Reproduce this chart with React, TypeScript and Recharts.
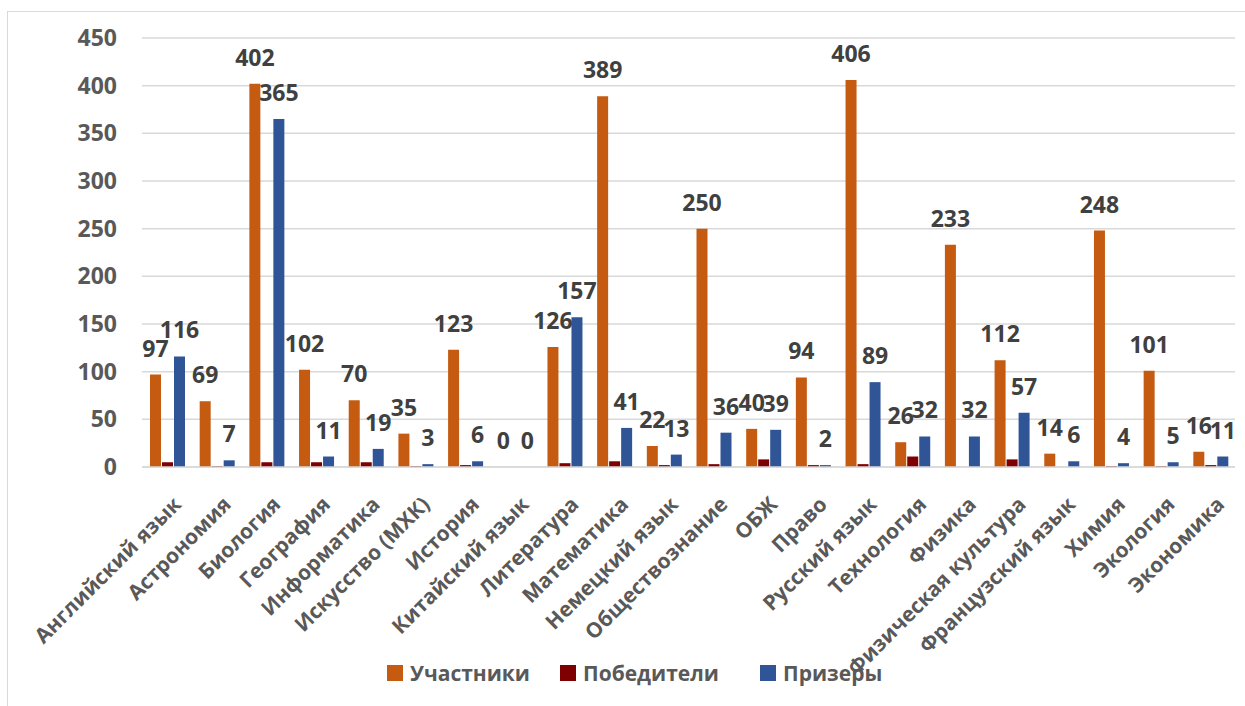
import React from 'react';
import { BarChart, Bar, XAxis, YAxis, CartesianGrid, LabelList } from 'recharts';

// Предметы
const subjects = [
  'Английский язык', 'Астрономия', 'Биология', 'География', 'Информатика',
  'Искусство (МХК)', 'История', 'Китайский язык', 'Литература', 'Математика',
  'Немецкий язык', 'Обществознание', 'ОБЖ', 'Право', 'Русский язык',
  'Технология', 'Физика', 'Физическая культура', 'Французский язык', 'Химия',
  'Экология', 'Экономика',
];

const participants = [97, 69, 402, 102, 70, 35, 123, 0, 126, 389, 22, 250, 40, 94, 406, 26, 233, 112, 14, 248, 101, 16];
const winners = [5, 1, 5, 5, 5, 1, 2, 0, 4, 6, 2, 3, 8, 2, 3, 11, 0, 8, 0, 1, 1, 2];
const prizers = [116, 7, 365, 11, 19, 3, 6, 0, 157, 41, 13, 36, 39, 2, 89, 32, 32, 57, 6, 4, 5, 11];

const yTicks = [0, 50, 100, 150, 200, 250, 300, 350, 400, 450];

const data = subjects.map((name, i) => ({
  name,
  uch: participants[i],
  pob: winners[i],
  pri: prizers[i],
}));

const FONT = '"Open Sans", sans-serif';

const XTick = (props: any) => {
  const { x, y, payload } = props;
  const ax = x + 5;
  const ay = y + 28;
  return (
    <text
      x={ax}
      y={ay}
      dy="0.72em"
      textAnchor="end"
      transform={`rotate(-45 ${ax} ${ay})`}
      fill="#595959"
      fontSize={21}
      fontWeight={700}
      fontFamily={FONT}
    >
      {payload.value}
    </text>
  );
};

const legendItems = [
  { label: 'Участники', color: '#C55A11', left: 387 },
  { label: 'Победители', color: '#7F0000', left: 560 },
  { label: 'Призеры', color: '#2F5597', left: 760 },
];

const labelStyle = { fill: '#404040', fontSize: 23, fontWeight: 700, fontFamily: FONT };

export default function App() {
  return (
    <div style={{ position: 'absolute', left: 0, top: 0, width: 1245, height: 706, overflow: 'hidden', background: '#fff' }}>
      <div
        style={{
          position: 'absolute', left: 7, top: 11, width: 1300, height: 720,
          border: '1.5px solid #d9d9d9', boxSizing: 'border-box',
        }}
      />
      <div style={{ position: 'absolute', left: 0, top: 0 }}>
        <BarChart
          width={1245}
          height={706}
          data={data}
          margin={{ top: 38, right: 10, bottom: 0, left: 0 }}
          barCategoryGap={8}
          barGap={1}
        >
          <CartesianGrid vertical={false} stroke="#d9d9d9" strokeWidth={1.5} />
          <XAxis
            dataKey="name"
            height={239}
            interval={0}
            tickLine={false}
            tickSize={0}
            tickMargin={0}
            axisLine={{ stroke: '#d9d9d9', strokeWidth: 1.5 }}
            tick={<XTick />}
          />
          <YAxis
            width={142}
            domain={[0, 450]}
            ticks={yTicks}
            axisLine={false}
            tickLine={false}
            tickSize={0}
            tickMargin={25}
            tick={{ fill: '#595959', fontSize: 23, fontWeight: 700, fontFamily: FONT }}
          />
          <Bar dataKey="uch" fill="#C55A11" minPointSize={0.01} isAnimationActive={false}>
            <LabelList dataKey="uch" position="top" offset={18} style={labelStyle} />
          </Bar>
          <Bar dataKey="pob" fill="#7F0000" isAnimationActive={false} />
          <Bar dataKey="pri" fill="#2F5597" minPointSize={0.01} isAnimationActive={false}>
            <LabelList dataKey="pri" position="top" offset={18} style={labelStyle} />
          </Bar>
        </BarChart>
      </div>
      {legendItems.map((it) => (
        <div
          key={it.label}
          style={{
            position: 'absolute', left: it.left, top: 659, height: 28,
            display: 'flex', alignItems: 'center', gap: 7,
            fontFamily: FONT, fontSize: 21, fontWeight: 700, color: '#595959',
          }}
        >
          <span style={{ width: 16, height: 16, background: it.color, display: 'inline-block' }} />
          <span>{it.label}</span>
        </div>
      ))}
    </div>
  );
}
